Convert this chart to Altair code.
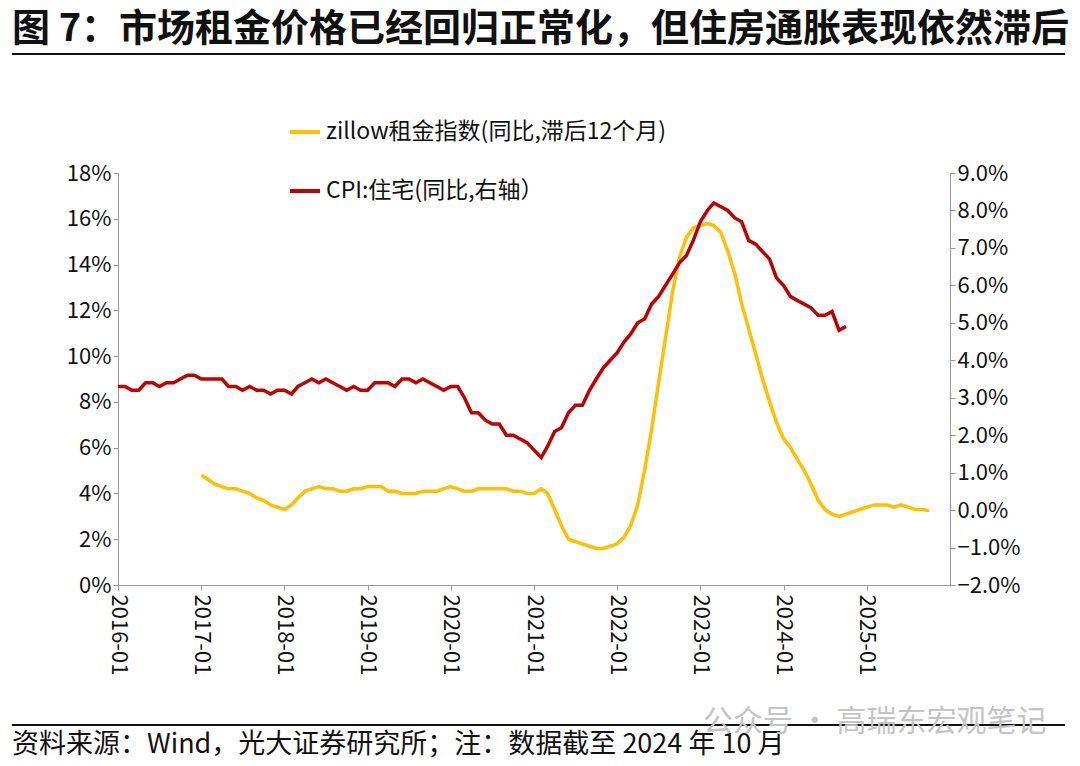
import altair as alt
import pandas as pd

# CPI shelter YoY (%), right axis, 2016-01 .. 2024-10
cpi_shelter = [
    3.3, 3.3, 3.2, 3.2, 3.4, 3.4, 3.3, 3.4, 3.4, 3.5, 3.6, 3.6,
    3.5, 3.5, 3.5, 3.5, 3.3, 3.3, 3.2, 3.3, 3.2, 3.2, 3.1, 3.2,
    3.2, 3.1, 3.3, 3.4, 3.5, 3.4, 3.5, 3.4, 3.3, 3.2, 3.3, 3.2,
    3.2, 3.4, 3.4, 3.4, 3.3, 3.5, 3.5, 3.4, 3.5, 3.4, 3.3, 3.2,
    3.3, 3.3, 3.0, 2.6, 2.6, 2.4, 2.3, 2.3, 2.0, 2.0, 1.9, 1.8,
    1.6, 1.4, 1.7, 2.1, 2.2, 2.6, 2.8, 2.8, 3.2, 3.5, 3.8, 4.0,
    4.2, 4.5, 4.7, 5.0, 5.1, 5.5, 5.7, 6.0, 6.3, 6.6, 6.8, 7.2,
    7.7, 8.0, 8.2, 8.1, 8.0, 7.8, 7.7, 7.2, 7.1, 6.9, 6.7, 6.2,
    6.0, 5.7, 5.6, 5.5, 5.4, 5.2, 5.2, 5.3, 4.8, 4.9,
]

# Zillow rent index YoY (%, lagged 12 months), left axis, 2017-01 .. 2025-10
zillow_rent = [
    4.8, 4.6, 4.4, 4.3, 4.2, 4.2, 4.1, 4.0, 3.8, 3.7, 3.5, 3.4,
    3.3, 3.5, 3.8, 4.1, 4.2, 4.3, 4.2, 4.2, 4.1, 4.1, 4.2, 4.2,
    4.3, 4.3, 4.3, 4.1, 4.1, 4.0, 4.0, 4.0, 4.1, 4.1, 4.1, 4.2,
    4.3, 4.2, 4.1, 4.1, 4.2, 4.2, 4.2, 4.2, 4.2, 4.1, 4.1, 4.0,
    4.0, 4.2, 4.0, 3.3, 2.6, 2.0, 1.9, 1.8, 1.7, 1.6, 1.6, 1.7,
    1.8, 2.1, 2.6, 3.5, 5.0, 6.8, 8.8, 10.8, 12.8, 14.3, 15.2, 15.6,
    15.7, 15.8, 15.7, 15.4, 14.6, 13.6, 12.3, 11.2, 10.1, 9.0, 8.0, 7.1,
    6.4, 6.0, 5.5, 5.0, 4.4, 3.7, 3.3, 3.1, 3.0, 3.1, 3.2, 3.3,
    3.4, 3.5, 3.5, 3.5, 3.4, 3.5, 3.4, 3.3, 3.3, 3.25,
]

tick_years = list(range(2016, 2026))

zillow_name = "zillow租金指数(同比,滞后12个月)"
cpi_name = "CPI:住宅(同比,右轴）"

cpi_df = pd.DataFrame({
    "date": pd.date_range("2016-01-01", periods=len(cpi_shelter), freq="MS"),
    "value": cpi_shelter, "series": cpi_name})
zillow_df = pd.DataFrame({
    "date": pd.date_range("2017-01-01", periods=len(zillow_rent), freq="MS"),
    "value": zillow_rent, "series": zillow_name})

font = "Noto Sans CJK SC"
x_enc = alt.X("date:T", title=None,
              scale=alt.Scale(domain=["2016-01-01", "2026-01-01"]),
              axis=alt.Axis(format="%Y-%m",
                            values=[alt.DateTime(year=y, month=1, date=1) for y in tick_years],
                            labelAngle=90, labelAlign="left", labelBaseline="middle",
                            labelFontSize=22, labelColor="#111", labelPadding=4,
                            domainColor="#999", tickColor="#999", grid=False,
                            labelFont=font))
color_enc = alt.Color("series:N", scale=alt.Scale(domain=[zillow_name, cpi_name],
                                                  range=["#FFC000", "#C00000"]),
                      legend=alt.Legend(title=None, orient="none", legendX=170, legendY=-58,
                                        symbolType="stroke", symbolSize=900,
                                        symbolStrokeWidth=4, labelFontSize=23,
                                        labelFont=font, labelColor="#111",
                                        rowPadding=30, labelLimit=500))

left = alt.Chart(zillow_df).mark_line(strokeWidth=3.5).encode(
    x=x_enc,
    y=alt.Y("value:Q", title=None,
            scale=alt.Scale(domain=[0, 18], nice=False),
            axis=alt.Axis(values=list(range(0, 19, 2)), labelExpr="datum.value + '%'",
                          labelFontSize=22, labelColor="#111", labelFont=font,
                          domainColor="#999", tickColor="#999", grid=False)),
    color=color_enc,
)

right = alt.Chart(cpi_df).mark_line(strokeWidth=3.5).encode(
    x=x_enc,
    y=alt.Y("value:Q", title=None,
            scale=alt.Scale(domain=[-2, 9], nice=False),
            axis=alt.Axis(orient="right", values=list(range(-2, 10)),
                          labelExpr="format(datum.value, '.1f') + '%'",
                          labelFontSize=22, labelColor="#111", labelFont=font,
                          domainColor="#999", tickColor="#999", grid=False)),
    color=color_enc,
)

texts = pd.DataFrame({"t": [
    "图 7：市场租金价格已经回归正常化，但住房通胀表现依然滞后",
    "资料来源：Wind，光大证券研究所；注：数据截至 2024 年 10 月",
    "公众号 · 高瑞东宏观笔记"]})

title = alt.Chart(texts.iloc[[0]]).mark_text(
    align="left", baseline="middle", fontSize=38, fontWeight="bold", font=font, color="#111"
).encode(text="t:N", x=alt.value(-106), y=alt.value(-143))
footer = alt.Chart(texts.iloc[[1]]).mark_text(
    align="left", baseline="middle", fontSize=27, font=font, color="#111"
).encode(text="t:N", x=alt.value(-106), y=alt.value(572))
mark = alt.Chart(texts.iloc[[2]]).mark_text(
    align="left", baseline="middle", fontSize=30, font=font, color="#c4c4c4"
).encode(text="t:N", x=alt.value(585), y=alt.value(549))

title_rule = alt.Chart(texts.iloc[[0]]).mark_rule(color="#111", strokeWidth=2).encode(
    x=alt.value(-106), x2=alt.value(947), y=alt.value(-119))
footer_rule = alt.Chart(texts.iloc[[0]]).mark_rule(color="#111", strokeWidth=2).encode(
    x=alt.value(-106), x2=alt.value(947), y=alt.value(552))

chart = alt.layer(left, right, title_rule, footer_rule, title, footer, mark).resolve_scale(
    y="independent").properties(
    width=832, height=412,
    autosize=alt.AutoSizeParams(type="none"),
    padding={"left": 110, "top": 165, "right": 122, "bottom": 173},
).configure_view(stroke=None)

chart.save("out.html", embed_options={"renderer": "svg", "actions": False})
